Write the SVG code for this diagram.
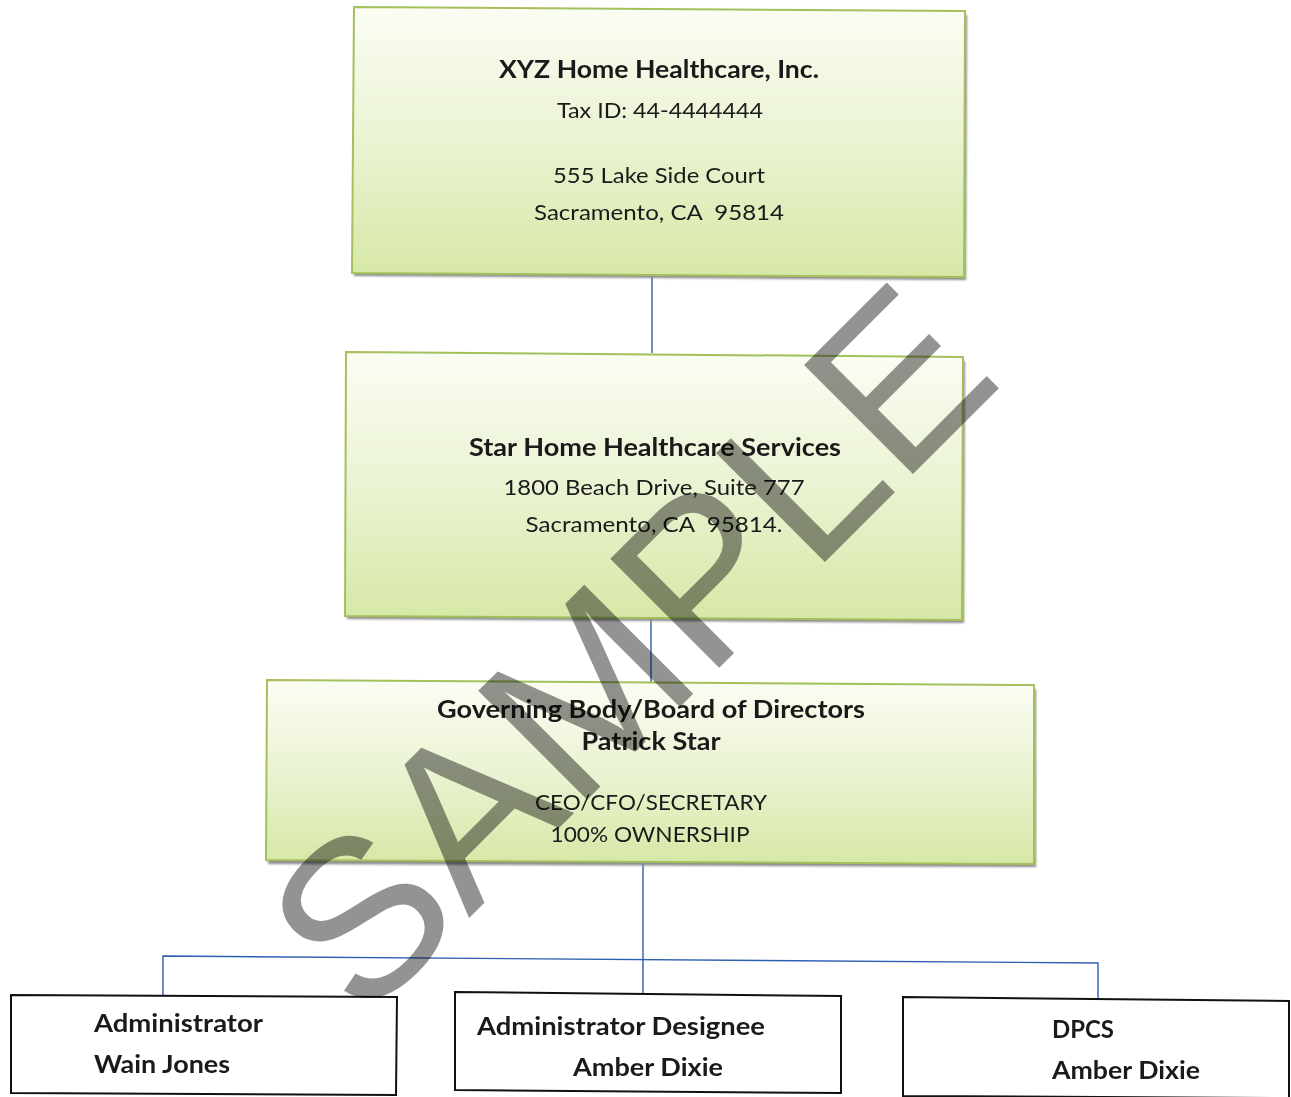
<svg xmlns="http://www.w3.org/2000/svg" width="1291" height="1097" viewBox="0 0 1291 1097">
<defs>
<linearGradient id="g" x1="0" y1="0" x2="0" y2="1">
<stop offset="0" stop-color="#fbfdf4"/>
<stop offset="0.5" stop-color="#eaf3d2"/>
<stop offset="1" stop-color="#d6e8a6"/>
</linearGradient>
<filter id="sh" x="-5%" y="-5%" width="110%" height="115%">
<feGaussianBlur stdDeviation="1.2"/>
</filter>
</defs>
<style>
.box{fill:url(#g);stroke:#a3c05c;stroke-width:2}
.shadow{fill:#8c8c8c;filter:url(#sh)}
.wbox{fill:#ffffff;stroke:#111111;stroke-width:2}
.con{fill:none;stroke:#2d5fb0;stroke-width:1.4}
text{font-family:Lato,"Open Sans","Liberation Sans",sans-serif;fill:#1a1a1a;white-space:pre}
.c{text-anchor:middle}
.b{font-weight:bold}
.n{font-size:22px}
.t{font-size:24px}
.wm{font-family:"Liberation Sans",Arial,sans-serif;font-size:224px;fill:#939393;mix-blend-mode:multiply}
</style>
<rect width="1291" height="1097" fill="#ffffff"/>

<g id="connectors">
<line class="con" x1="652" y1="277" x2="652" y2="353"/>
<line class="con" x1="651" y1="619" x2="651" y2="684"/>
<line class="con" x1="643" y1="863" x2="643" y2="995"/>
<polyline class="con" points="163,996 163,956 1098,963 1098,999"/>
</g>

<g id="node-xyz">
<polygon class="shadow" points="356,11 967,15 966,280 354,276"/>
<polygon class="box" points="354,7 965,11 964,277 352,273"/>
<text class="c b t" x="659" y="78" textLength="320" lengthAdjust="spacingAndGlyphs">XYZ Home Healthcare, Inc.</text>
<text class="c n" x="660" y="118" textLength="206" lengthAdjust="spacingAndGlyphs">Tax ID: 44-4444444</text>
<text class="c n" x="659" y="183" textLength="212" lengthAdjust="spacingAndGlyphs">555 Lake Side Court</text>
<text class="c n" x="659" y="220" textLength="250" lengthAdjust="spacingAndGlyphs" xml:space="preserve">Sacramento, CA  95814</text>
</g>

<g id="node-star">
<polygon class="shadow" points="348,356 965,361 964,623 347,619"/>
<polygon class="box" points="346,352 963,357 962,620 345,616"/>
<text class="c b t" x="655" y="456" textLength="372" lengthAdjust="spacingAndGlyphs">Star Home Healthcare Services</text>
<text class="c n" x="654" y="495" textLength="301" lengthAdjust="spacingAndGlyphs">1800 Beach Drive, Suite 777</text>
<text class="c n" x="654" y="532" textLength="257" lengthAdjust="spacingAndGlyphs" xml:space="preserve">Sacramento, CA  95814.</text>
</g>

<g id="node-board">
<polygon class="shadow" points="269,684 1036,689 1036,867 268,864"/>
<polygon class="box" points="267,680 1034,685 1034,864 266,860"/>
<text class="c b t" x="651" y="718" textLength="428" lengthAdjust="spacingAndGlyphs">Governing Body/Board of Directors</text>
<text class="c b t" x="651" y="750" textLength="139" lengthAdjust="spacingAndGlyphs">Patrick Star</text>
<text class="c n" x="651" y="810" textLength="232" lengthAdjust="spacingAndGlyphs">CEO/CFO/SECRETARY</text>
<text class="c n" x="650" y="842" textLength="199" lengthAdjust="spacingAndGlyphs">100% OWNERSHIP</text>
</g>

<g id="node-administrator">
<polygon class="wbox" points="11,995 397,997 396,1095 11,1093"/>
<text class="b t" x="94" y="1032" textLength="169" lengthAdjust="spacingAndGlyphs">Administrator</text>
<text class="b t" x="94" y="1073" textLength="136" lengthAdjust="spacingAndGlyphs">Wain Jones</text>
</g>

<g id="node-designee">
<polygon class="wbox" points="455,992 841,996 841,1093 455,1090"/>
<text class="b t" x="477" y="1035" textLength="288" lengthAdjust="spacingAndGlyphs">Administrator Designee</text>
<text class="b t" x="573" y="1076" textLength="150" lengthAdjust="spacingAndGlyphs">Amber Dixie</text>
</g>

<g id="node-dpcs">
<polygon class="wbox" points="903,997 1289,1001 1289,1098 903,1096"/>
<text class="b t" x="1052" y="1038" textLength="62" lengthAdjust="spacingAndGlyphs">DPCS</text>
<text class="b t" x="1052" y="1079" textLength="148" lengthAdjust="spacingAndGlyphs">Amber Dixie</text>
</g>

<g id="watermark">
<text class="wm" transform="translate(363,1024) rotate(-45)" x="0" y="0">SAMPLE</text>
</g>
</svg>
